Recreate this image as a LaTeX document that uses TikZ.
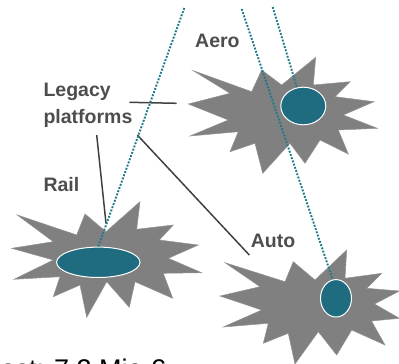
\documentclass[tikz,border=0pt]{standalone}
\usepackage{fontspec}
\setmainfont{Liberation Sans}
\usetikzlibrary{shapes.geometric}
\definecolor{burstgray}{HTML}{808080}
\definecolor{tealfill}{HTML}{1F6B80}
\definecolor{dotc}{HTML}{1F7A8C}
\definecolor{lbl}{HTML}{4D4D4D}
\begin{document}
\begin{tikzpicture}[x=1pt,y=-1pt,
  burst/.style={fill=burstgray, draw=burstgray!85!white, line width=0.5pt, line join=miter},
  hole/.style={ellipse, fill=tealfill, draw=white, line width=1pt, inner sep=0pt},
  lab/.style={font=\fontsize{19.5}{23}\selectfont\bfseries, text=lbl, anchor=base west, inner sep=0pt},
  dotline/.style={draw=dotc, line width=1.9pt, dash pattern=on 1.9pt off 1.5pt},
  lead/.style={draw=lbl!85!black, line width=1.5pt}]
\useasboundingbox (0,0) rectangle (399,364);
\clip (0,0) rectangle (399,364);

% starbursts
\path[burst] (193.3,70.7) -- (251.7,91.7) -- (261.7,70) -- (281.7,85) -- (315.7,57.3) -- (313.3,85) -- (350,81.7) -- (335,96.7) -- (374,101.7) -- (343.3,115) -- (377.3,128.3) -- (338.3,130) -- (348.3,154) -- (320,140) -- (305,163.3) -- (290,143.3) -- (262.7,173.3) -- (255,143.3) -- (230,151.7) -- (238.3,131.7) -- (190,136) -- (228.3,120) -- (188.3,104) -- (230,93.3) -- cycle;
\path[burst] (17.3,215) -- (76.7,235) -- (85,214) -- (106,231.7) -- (140,201.7) -- (136.7,229.3) -- (173.3,225) -- (159.3,240) -- (198.3,245) -- (168.3,258.3) -- (201.7,272.7) -- (163.3,273.3) -- (172.7,298.3) -- (135,281.7) -- (129.3,307.3) -- (106.7,281.7) -- (86.7,317.3) -- (80,285) -- (53.3,296.7) -- (60,276.7) -- (14,279.3) -- (53.3,260) -- (11.7,248.3) -- (53.3,241.7) -- cycle;
\path[burst] (225,262.7) -- (285,281.7) -- (293.3,261.7) -- (315,280) -- (346.7,250) -- (345,278.3) -- (381.7,273.3) -- (366.7,288.3) -- (399.5,291) -- (374.5,304) -- (399.5,318.3) -- (371.5,321) -- (385,345) -- (351.7,330) -- (336.7,355) -- (318.3,331.7) -- (295,364) -- (288.3,333.3) -- (263.3,343.3) -- (268.3,323.3) -- (223.3,327) -- (261.7,310) -- (220,296) -- (260,286.7) -- cycle;

% holes
\node[hole, minimum width=45pt, minimum height=37.6pt] (aeroell) at (303.3,106) {};
\node[hole, minimum width=83.4pt, minimum height=30.4pt] (railell) at (98.3,262.3) {};
\node[hole, minimum width=31pt, minimum height=37.4pt] (autoell) at (336,298.3) {};

% labels
\node[lab] (aero) at (195,47.7) {Aero};
\node[lab] (legacy) at (43.3,96.7) {Legacy};
\node[lab] (platforms) at (43.3,123.3) {platforms};
\node[lab] (rail) at (43.3,191.2) {Rail};
\node[lab] (auto) at (250.7,247.7) {Auto};
\node[anchor=base west, inner sep=0pt, font=\fontsize{27}{30}\selectfont, text=black] (cost) at (-19,378) {Cost: 7,2 Mio €};

% leader lines
\coordinate (la1) at (129.3,102.3);
\coordinate (la2) at (176.7,103.3);
\coordinate (lr1) at (96.7,135);
\coordinate (lr2) at (106,223.3);
\coordinate (lu1) at (137.3,135);
\coordinate (lu2) at (249.3,255);
\draw[lead] (la1) -- (la2);
\draw[lead] (lr1) -- (lr2);
\draw[lead] (lu1) -- (lu2);

% dotted links
\coordinate (t1) at (184.3,8);
\coordinate (t2) at (241.7,9);
\coordinate (t3) at (272.7,7);
\draw[dotline] (t1) -- (railell.north);
\draw[dotline] (t2) -- (autoell.100);
\draw[dotline] (t3) -- (aeroell.109);
\end{tikzpicture}
\end{document}
